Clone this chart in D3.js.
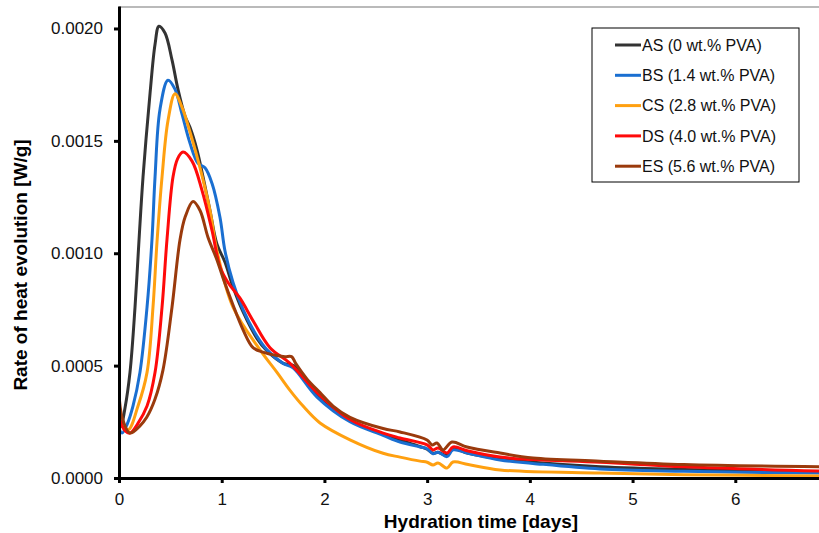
<!DOCTYPE html>
<html>
<head>
<meta charset="utf-8">
<script src="https://cdn.jsdelivr.net/npm/d3@7"></script>
<style>
  body { margin: 0; background: #fff; }
  svg { display: block; font-family: Arial, "Liberation Sans", sans-serif; }
</style>
</head>
<body>
<div id="chart"></div>
<script>
// series labels + colours
const seriesNames = ['AS (0 wt.% PVA)', 'BS (1.4 wt.% PVA)', 'CS (2.8 wt.% PVA)', 'DS (4.0 wt.% PVA)', 'ES (5.6 wt.% PVA)'];
const seriesColors = ['#333333', '#1a6fd1', '#ffa010', '#ff0a0a', '#9a3a0c'];

// [days, W/g]
const asData = [
  [0, 0.00027], [0.02, 0.00023], [0.058, 0.00031], [0.107, 0.00047], [0.156, 0.00076], [0.195, 0.00106],
  [0.234, 0.00134], [0.302, 0.00171], [0.351, 0.00193], [0.389, 0.00201], [0.448, 0.00198], [0.516, 0.00186],
  [0.574, 0.00173], [0.643, 0.00161], [0.691, 0.00156], [0.759, 0.00146], [0.818, 0.00134], [0.886, 0.00119],
  [0.954, 0.00104], [1.032, 0.00096], [1.11, 0.00085], [1.207, 0.00074], [1.344, 0.00062], [1.441, 0.000565],
  [1.6, 0.00051], [1.7, 0.0005], [1.93, 0.000365], [2.25, 0.000255], [2.57, 0.000195], [2.93, 0.00014],
  [3.0, 0.000128], [3.057, 0.00011], [3.106, 0.000115], [3.194, 0.0001], [3.252, 0.00013], [3.4, 0.00011],
  [3.71, 0.000085], [4.03, 0.00007], [4.684, 0.00005], [5.5, 0.000038], [6.816, 0.000028]
];
const bsData = [
  [0, 0.00022], [0.03, 0.0002], [0.08, 0.00024], [0.136, 0.00032], [0.204, 0.00047], [0.273, 0.00076],
  [0.321, 0.00106], [0.351, 0.00134], [0.399, 0.00164], [0.477, 0.00177], [0.545, 0.00173], [0.613, 0.00162],
  [0.691, 0.00149], [0.769, 0.0014], [0.837, 0.00138], [0.906, 0.00131], [0.983, 0.00116], [1.032, 0.00101],
  [1.11, 0.00087], [1.207, 0.00075], [1.344, 0.00063], [1.441, 0.00057], [1.597, 0.00051], [1.694, 0.00049],
  [1.928, 0.00036], [2.249, 0.00025], [2.571, 0.00019], [2.736, 0.00016], [2.931, 0.000138], [2.999, 0.00013],
  [3.057, 0.000108], [3.106, 0.000115], [3.194, 0.000095], [3.252, 0.000125], [3.4, 0.00011], [3.71, 0.00008],
  [4.03, 0.000065], [4.684, 0.00004], [5.5, 0.00003], [6.816, 0.000022]
];
const csData = [
  [0, 0.00025], [0.088, 0.000214], [0.185, 0.00032], [0.273, 0.00047], [0.331, 0.00076], [0.37, 0.00105],
  [0.419, 0.00134], [0.477, 0.00159], [0.545, 0.00171], [0.613, 0.00165], [0.691, 0.00154], [0.789, 0.00138],
  [0.886, 0.00119], [0.954, 0.00101], [1.11, 0.00076], [1.373, 0.00057], [1.538, 0.00047], [1.665, 0.00039],
  [1.792, 0.00032], [1.957, 0.000245], [2.249, 0.00017], [2.571, 0.00011], [2.736, 0.000093], [2.931, 0.000075],
  [3.0, 0.00007], [3.057, 0.000058], [3.106, 0.000067], [3.194, 0.000044], [3.252, 0.000071], [3.4, 0.00006],
  [3.71, 0.000036], [4.684, 0.000022], [5.5, 0.000015], [6.816, 0.000009]
];
const dsData = [
  [0, 0.00027], [0.058, 0.00021], [0.107, 0.0002], [0.18, 0.00024], [0.273, 0.00032], [0.351, 0.00047],
  [0.419, 0.00076], [0.467, 0.00106], [0.526, 0.00134], [0.57, 0.00142], [0.623, 0.00145], [0.711, 0.00141],
  [0.808, 0.00128], [0.906, 0.0011], [0.983, 0.00094], [1.061, 0.00087], [1.178, 0.0008], [1.305, 0.0007],
  [1.47, 0.00058], [1.665, 0.00051], [1.928, 0.00038], [2.249, 0.00026], [2.571, 0.0002], [2.736, 0.000178],
  [2.999, 0.000147], [3.057, 0.000125], [3.106, 0.000133], [3.194, 0.000111], [3.252, 0.000138], [3.4, 0.00012],
  [3.71, 0.000093], [4.03, 0.000082], [4.684, 0.00007], [5.5, 0.00005], [6.816, 0.000031]
];
const esData = [
  [0, 0.00038], [0.03, 0.00027], [0.107, 0.0002], [0.2, 0.00023], [0.27, 0.00027], [0.35, 0.00035],
  [0.428, 0.00048], [0.516, 0.00076], [0.594, 0.00106], [0.643, 0.00116], [0.721, 0.00123], [0.789, 0.00119],
  [0.867, 0.00107], [0.954, 0.00097], [1.013, 0.00089], [1.11, 0.00077], [1.207, 0.00066], [1.305, 0.00058],
  [1.4, 0.00056], [1.538, 0.000545], [1.616, 0.00054], [1.68, 0.00054], [1.72, 0.00051], [1.831, 0.00044],
  [1.957, 0.00038], [2.084, 0.00032], [2.249, 0.00027], [2.571, 0.00022], [2.736, 0.000205], [2.999, 0.000169],
  [3.048, 0.000147], [3.096, 0.000156], [3.155, 0.000125], [3.242, 0.00016], [3.388, 0.000138], [3.71, 0.000111],
  [4.031, 0.000089], [4.684, 0.000075], [5.5, 0.00006], [6.816, 0.00005]
];
const allSeries = [asData, bsData, csData, dsData, esData];

const xTicks = [0, 1, 2, 3, 4, 5, 6];
const yTicks = [0, 0.0005, 0.0010, 0.0015, 0.0020];

const width = 819, height = 533;
const margin = { left: 119, top: 6, bottom: 55 };
const plotRight = 838; // 7 days sits just off the picture

const svg = d3.select('#chart').append('svg')
  .attr('width', width)
  .attr('height', height);

const x = d3.scaleLinear().domain([0, 7]).range([margin.left, plotRight]);
const y = d3.scaleLinear().domain([0, 0.0021]).range([height - margin.bottom, margin.top]);

svg.append('clipPath').attr('id', 'clip')
  .append('rect')
  .attr('x', margin.left).attr('y', margin.top)
  .attr('width', plotRight - margin.left).attr('height', y(0) - margin.top);

// thin frame on top
svg.append('line')
  .attr('x1', margin.left).attr('x2', width)
  .attr('y1', 7).attr('y2', 7)
  .attr('stroke', '#777').attr('stroke-width', 1.2);

const line = d3.line()
  .x(d => x(d[0]))
  .y(d => y(d[1]))
  .curve(d3.curveCatmullRom.alpha(0.5));

svg.append('g').attr('clip-path', 'url(#clip)')
  .selectAll('path')
  .data(allSeries)
  .enter().append('path')
  .attr('d', line)
  .attr('fill', 'none')
  .attr('stroke', (d, i) => seriesColors[i])
  .attr('stroke-width', 3)
  .attr('stroke-linejoin', 'round');

// axes
const xAxis = svg.append('g')
  .attr('transform', 'translate(0,' + y(0) + ')')
  .call(d3.axisBottom(x).tickValues(xTicks).tickFormat(d3.format('d')).tickSize(5).tickSizeOuter(0));
const yAxis = svg.append('g')
  .attr('transform', 'translate(' + margin.left + ',0)')
  .call(d3.axisLeft(y).tickValues(yTicks).tickFormat(d3.format('.4f')).tickSize(5).tickSizeOuter(0));

[xAxis, yAxis].forEach(g => {
  g.select('.domain').attr('stroke', '#000').attr('stroke-width', 3);
  g.selectAll('.tick line').attr('stroke', '#000').attr('stroke-width', 3);
  g.selectAll('.tick text').attr('fill', '#111').style('font-size', '17px')
    .style('font-family', 'Arial, "Liberation Sans", sans-serif');
});
xAxis.selectAll('.tick text').attr('y', 13).attr('dy', '0.8em');
yAxis.selectAll('.tick text').attr('x', -16);

svg.append('text')
  .attr('x', 481).attr('y', 528)
  .attr('text-anchor', 'middle')
  .style('font-size', '19px').style('font-weight', 'bold')
  .text('Hydration time [days]');

svg.append('text')
  .attr('transform', 'translate(27,265) rotate(-90)')
  .attr('text-anchor', 'middle')
  .style('font-size', '19px').style('font-weight', 'bold')
  .text('Rate of heat evolution [W/g]');

// legend
const legend = svg.append('g').attr('transform', 'translate(592,28)');
legend.append('rect')
  .attr('width', 207).attr('height', 154)
  .attr('fill', '#fff').attr('stroke', '#000').attr('stroke-width', 1);
const item = legend.selectAll('.item')
  .data(seriesNames)
  .enter().append('g').attr('class', 'item')
  .attr('transform', (d, i) => 'translate(0,' + (17 + i * 30.3) + ')');
item.append('line')
  .attr('x1', 23).attr('x2', 49)
  .attr('stroke', (d, i) => seriesColors[i]).attr('stroke-width', 3);
item.append('text')
  .attr('x', 50).attr('dy', '0.35em')
  .style('font-size', '16px').attr('fill', '#111')
  .text(d => d);
</script>
</body>
</html>
